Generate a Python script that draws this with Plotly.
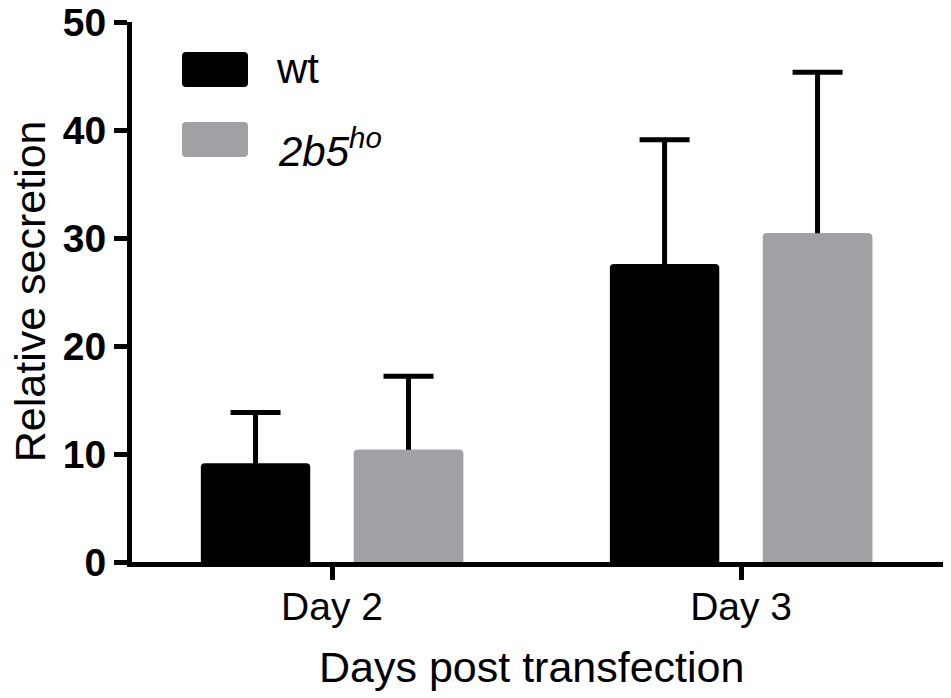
import plotly.graph_objects as go

# values
days = ["Day 2", "Day 3"]
wt_mean = [9.15, 27.6]
wt_sem = [4.7, 11.5]
ho_mean = [10.4, 30.45]
ho_sem = [6.8, 14.9]

FONT = "Liberation Sans, Arial, Helvetica, sans-serif"
GREY = "#a1a1a5"

# plot area as seen on screen (pixels); the page body adds an 8px offset
L, R, T, B = 132, 946, 22, 562.5
OFF = 8
W, H = 951, 698


def px(x):
    return (x - L) / (R - L)


def py(y):
    return (B - y) / (B - T)


def swatch(x0, y0, x1, y1, r=4):
    # rounded rectangle path in paper coords, corners given in screen pixels
    rx = r / (R - L)
    ry = r / (B - T)
    a, b, c, d = px(x0), py(y1), px(x1), py(y0)
    return (f"M{a + rx},{b} L{c - rx},{b} Q{c},{b} {c},{b + ry} "
            f"L{c},{d - ry} Q{c},{d} {c - rx},{d} L{a + rx},{d} "
            f"Q{a},{d} {a},{d - ry} L{a},{b + ry} Q{a},{b} {a + rx},{b} Z")


errs = dict(type="data", symmetric=False, color="black", thickness=5, width=25)

fig = go.Figure()
# error bars run down to zero so no cap shows at the bar top
fig.add_trace(go.Bar(
    x=days, y=wt_mean, name="wt", offsetgroup="wt",
    marker=dict(color="black", line=dict(width=0), cornerradius=4),
    error_y=dict(array=wt_sem, arrayminus=wt_mean, **errs),
))
fig.add_trace(go.Bar(
    x=days, y=ho_mean, name="2b5<sup>ho</sup>", offsetgroup="ho",
    marker=dict(color=GREY, line=dict(width=0), cornerradius=4),
    error_y=dict(array=ho_sem, arrayminus=ho_mean, **errs),
))
# same grey bars again on top, hiding the part of the error bar inside the bar
fig.add_trace(go.Bar(
    x=days, y=ho_mean, offsetgroup="ho", showlegend=False, hoverinfo="skip",
    marker=dict(color=GREY, line=dict(width=0), cornerradius=4),
))

# legend drawn by hand so the swatches can be large
fig.add_shape(type="path", xref="paper", yref="paper", path=swatch(182, 52, 248, 87),
              fillcolor="black", line=dict(width=0))
fig.add_shape(type="path", xref="paper", yref="paper", path=swatch(182, 122, 248, 157),
              fillcolor=GREY, line=dict(width=0))
fig.add_annotation(x=px(274), y=py(69), xref="paper", yref="paper", text="wt",
                   showarrow=False, xanchor="left", yanchor="middle",
                   font=dict(family=FONT, size=42, color="black"))
fig.add_annotation(x=px(276), y=py(148), xref="paper", yref="paper",
                   text="<i>2b5<sup>ho</sup></i>",
                   showarrow=False, xanchor="left", yanchor="middle",
                   font=dict(family=FONT, size=42, color="black"))

# axis titles
fig.add_annotation(x=px(30), y=py(291.5), xref="paper", yref="paper",
                   text="Relative secretion", textangle=-90, showarrow=False,
                   xanchor="center", yanchor="middle",
                   font=dict(family=FONT, size=43, color="black"))
fig.add_annotation(x=px(531), y=py(668), xref="paper", yref="paper",
                   text="Days post transfection", showarrow=False,
                   xanchor="center", yanchor="middle",
                   font=dict(family=FONT, size=43, color="black"))

fig.update_layout(
    width=W, height=H,
    margin=dict(l=L - OFF, r=W - (R - OFF), t=T - OFF, b=H - (B - OFF), autoexpand=False),
    paper_bgcolor="white", plot_bgcolor="white",
    barmode="group", bargap=0.252, bargroupgap=0.285,
    showlegend=False,
    font=dict(family=FONT, color="black"),
)
fig.update_xaxes(
    range=[-0.489, 1.501], showgrid=False, zeroline=False, automargin=False,
    showline=True, linecolor="black", linewidth=5,
    ticks="outside", ticklen=13, tickwidth=5, tickcolor="black",
    tickfont=dict(family=FONT, size=39, color="black"),
    ticklabelstandoff=-7,
)
fig.update_yaxes(
    range=[0, 50], tickvals=[0, 10, 20, 30, 40, 50], showgrid=False, zeroline=False,
    automargin=False,
    showline=True, linecolor="black", linewidth=5,
    ticks="outside", ticklen=13, tickwidth=5, tickcolor="black",
    tickfont=dict(family=FONT, size=39, color="black", weight="bold"),
    ticklabeloverflow="allow",
)

fig.write_html("out.html")
